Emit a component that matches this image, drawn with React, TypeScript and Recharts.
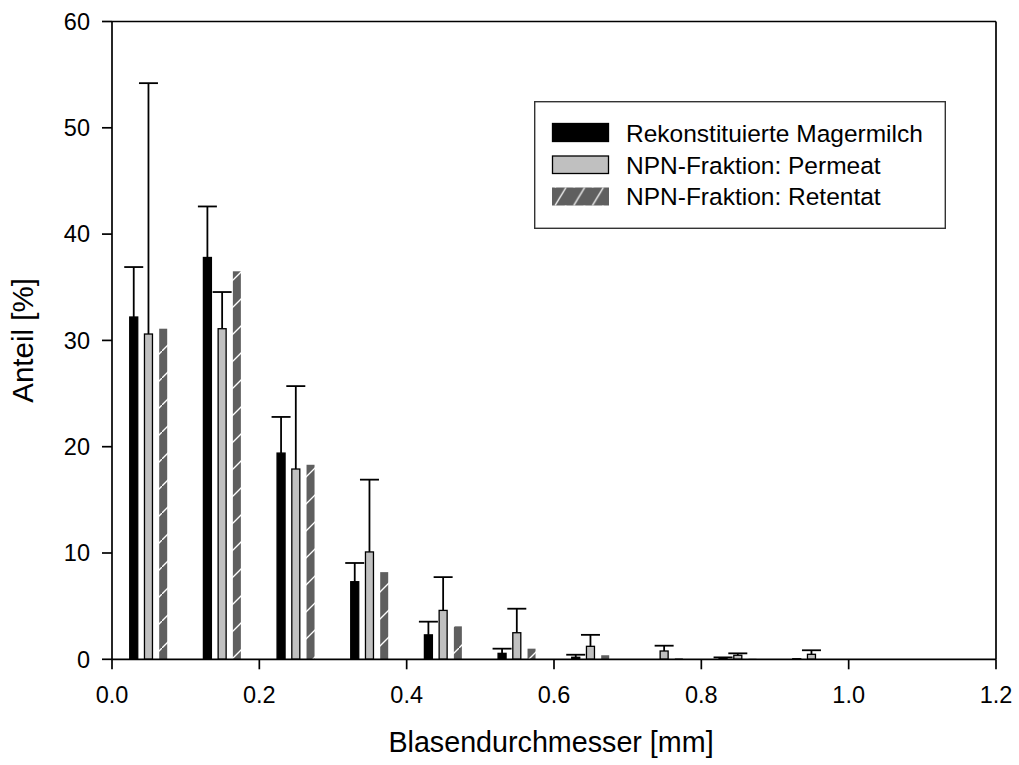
import React from 'react';
import { BarChart, Bar, XAxis, YAxis, ReferenceLine, Legend } from 'recharts';

const FONT = "'Liberation Sans', Arial, sans-serif";

// Group centres (bubble diameter classes, mm)
const groupCenters = [0.05, 0.15, 0.25, 0.35, 0.45, 0.55, 0.65, 0.75, 0.85, 0.95];
// Rekonstituierte Magermilch
const magermilch = [32.2, 37.8, 19.4, 7.3, 2.3, 0.56, 0.19, 0, 0.1, 0.05];
const magermilchErr = [4.7, 4.8, 3.4, 1.76, 1.24, 0.44, 0.24, 0, 0.08, 0];
// NPN-Fraktion: Permeat
const permeat = [30.6, 31.1, 17.9, 10.1, 4.6, 2.5, 1.22, 0.78, 0.38, 0.47];
const permeatErr = [23.6, 3.45, 7.8, 6.8, 3.13, 2.26, 1.08, 0.5, 0.18, 0.38];
// NPN-Fraktion: Retentat
const retentat = [31.1, 36.5, 18.3, 8.2, 3.1, 1.0, 0.38, 0.1, 0.05, 0.02];

const xTicks = [0, 0.2, 0.4, 0.6, 0.8, 1.0, 1.2];
const yTicks = [0, 10, 20, 30, 40, 50, 60];

const seriesNames = ['Rekonstituierte Magermilch', 'NPN-Fraktion: Permeat', 'NPN-Fraktion: Retentat'];

const OFFSET = 0.02;
const rows: any[] = [];
groupCenters.forEach((c, i) => {
  rows.push({ x: +(c - OFFSET).toFixed(3), mager: magermilch[i], magerErr: magermilchErr[i] });
  rows.push({ x: +c.toFixed(3), perm: permeat[i], permErr: permeatErr[i] });
  rows.push({ x: +(c + OFFSET).toFixed(3), ret: retentat[i] });
});

const makeShape = (valKey: string, errKey: string | null, fill: string, stroke: string | undefined, sw: number) =>
  (props: any) => {
    const { x, y, width, height, payload } = props;
    const v = payload ? payload[valKey] : undefined;
    if (v == null || !(v > 0)) return <g />;
    const e = errKey && payload[errKey] ? payload[errKey] : 0;
    const pxPerUnit = height / v;
    const cx = x + width / 2;
    const ey = y - e * pxPerUnit;
    return (
      <g>
        {e > 0 && (
          <g stroke="#000" strokeWidth={1.8}>
            <line x1={cx} x2={cx} y1={y} y2={ey} />
            <line x1={cx - 9.5} x2={cx + 9.5} y1={ey} y2={ey} />
          </g>
        )}
        <rect x={x} y={y} width={width} height={height} fill={fill} stroke={stroke} strokeWidth={stroke ? sw : 0} />
      </g>
    );
  };

const renderLegend = () => (
  <svg width={413} height={129} style={{ display: 'block' }}>
    <rect x={0.7} y={0.7} width={410.6} height={126.6} fill="#fff" stroke="#333" strokeWidth={1.4} />
    <rect x={18.5} y={22.5} width={56} height={18} fill="#000" stroke="#000" strokeWidth={1.3} />
    <rect x={18.5} y={55} width={56} height={17.5} fill="#c0c0c0" stroke="#000" strokeWidth={1.3} />
    <rect x={18} y={86.5} width={57} height={18} fill="url(#hatchLegend)" />
    {seriesNames.map((n, i) => (
      <text key={n} x={92} y={41 + i * 31.7} fontSize={24.5} fontFamily={FONT} fill="#000">{n}</text>
    ))}
  </svg>
);

const renderYTitle = (props: any) => {
  const vb = props.viewBox || {};
  const cy = (vb.y || 0) + (vb.height || 0) / 2;
  const tx = 33;
  return (
    <text x={tx} y={cy} transform={`rotate(-90, ${tx}, ${cy})`} textAnchor="middle" fontSize={29.5} fontFamily={FONT} fill="#000">
      Anteil [%]
    </text>
  );
};

const renderXTitle = (props: any) => {
  const vb = props.viewBox || {};
  const cx = (vb.x || 0) + (vb.width || 0) / 2 - 3;
  return (
    <text x={cx} y={(vb.y || 0) + 93} textAnchor="middle" fontSize={28.7} fontFamily={FONT} fill="#000">
      Blasendurchmesser [mm]
    </text>
  );
};

export default function App() {
  return (
    <div style={{ position: 'absolute', left: 0, top: 0, width: 1019, height: 765, background: '#fff', fontFamily: FONT }}>
      <svg width={0} height={0} style={{ position: 'absolute' }}>
        <defs>
          <pattern id="hatchBar" patternUnits="userSpaceOnUse" width={27} height={27}>
            <rect width={27} height={27} fill="#5f5f5f" />
            <line x1={0} y1={27} x2={27} y2={0} stroke="#fff" strokeWidth={1.3} />
          </pattern>
          <pattern id="hatchLegend" patternUnits="userSpaceOnUse" x={18} y={86.5} width={18.7} height={18}>
            <rect width={18.7} height={18} fill="#5f5f5f" />
            <line x1={3} y1={18} x2={14} y2={0} stroke="#fff" strokeWidth={1.3} />
          </pattern>
        </defs>
      </svg>
      <BarChart width={1019} height={765} data={rows} margin={{ top: 21.5, right: 23, left: 0, bottom: 0 }}>
        <XAxis
          dataKey="x"
          type="number"
          domain={[0, 1.2]}
          ticks={xTicks}
          tickFormatter={(v: number) => v.toFixed(1)}
          height={105.7}
          tickSize={10}
          tickMargin={17}
          stroke="#000"
          strokeWidth={1.7}
          tick={{ fontSize: 23.5, fill: '#000', fontFamily: FONT }}
          label={{ content: renderXTitle } as any}
        />
        <YAxis
          type="number"
          domain={[0, 60]}
          ticks={yTicks}
          width={112}
          tickSize={10}
          tickMargin={12}
          stroke="#000"
          strokeWidth={1.7}
          tick={{ fontSize: 23.5, fill: '#000', fontFamily: FONT }}
          label={{ content: renderYTitle } as any}
        />
        <ReferenceLine y={60} stroke="#000" strokeWidth={1.7} />
        <ReferenceLine x={1.2} stroke="#000" strokeWidth={1.7} />
        <Legend
          layout="horizontal"
          verticalAlign="middle"
          align="center"
          content={renderLegend}
          wrapperStyle={{ left: 534, top: 101, width: 413, height: 129 }}
        />
        <Bar dataKey="mager" name={seriesNames[0]} stackId="s" barSize={8} isAnimationActive={false}
          shape={makeShape('mager', 'magerErr', '#000', '#000', 1.3)} />
        <Bar dataKey="perm" name={seriesNames[1]} stackId="s" barSize={8} isAnimationActive={false}
          shape={makeShape('perm', 'permErr', '#c0c0c0', '#000', 1.3)} />
        <Bar dataKey="ret" name={seriesNames[2]} stackId="s" barSize={8} isAnimationActive={false}
          shape={makeShape('ret', null, 'url(#hatchBar)', undefined, 0)} />
      </BarChart>
    </div>
  );
}
